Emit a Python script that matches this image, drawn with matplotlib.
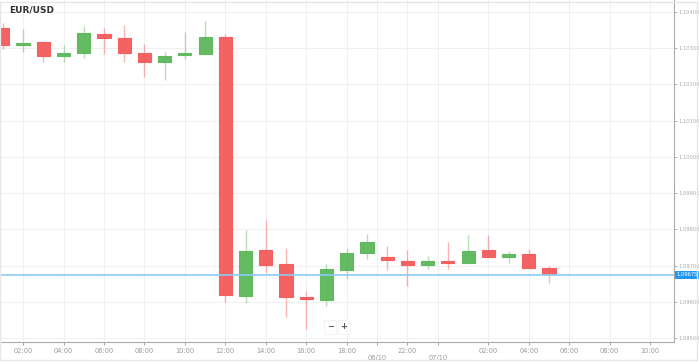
import numpy as np
import matplotlib
matplotlib.use("Agg")
import matplotlib.pyplot as plt
from matplotlib.patches import Rectangle
import matplotlib.transforms as mtransforms

# hourly EUR/USD candles
opens = [1.10356, 1.10309, 1.10317, 1.10279, 1.10287, 1.10339, 1.10328, 1.10287,
         1.10262, 1.10281, 1.10284, 1.10331, 1.09616, 1.09743, 1.09704, 1.09613,
         1.09605, 1.09688, 1.09735, 1.09724, 1.09713, 1.09702, 1.09713, 1.09707,
         1.09743, 1.09724, 1.09732, 1.09693]
highs = [1.10370, 1.10353, 1.10320, 1.10309, 1.10361, 1.10356, 1.10364, 1.10312,
         1.10290, 1.10345, 1.10375, 1.10339, 1.09798, 1.09826, 1.09749, 1.09630,
         1.09704, 1.09749, 1.09787, 1.09754, 1.09743, 1.09727, 1.09765, 1.09785,
         1.09785, 1.09740, 1.09746, 1.09699]
lows = [1.10298, 1.10290, 1.10262, 1.10262, 1.10273, 1.10284, 1.10262, 1.10221,
        1.10212, 1.10270, 1.10281, 1.09600, 1.09597, 1.09680, 1.09558, 1.09525,
        1.09589, 1.09663, 1.09718, 1.09688, 1.09644, 1.09691, 1.09691, 1.09707,
        1.09724, 1.09707, 1.09693, 1.09652]
closes = [1.10309, 1.10314, 1.10279, 1.10287, 1.10342, 1.10328, 1.10287, 1.10262,
          1.10279, 1.10287, 1.10331, 1.09619, 1.09740, 1.09702, 1.09613, 1.09608,
          1.09691, 1.09735, 1.09765, 1.09716, 1.09702, 1.09713, 1.09707, 1.09740,
          1.09724, 1.09732, 1.09693, 1.09677]
current_price = 1.09675

time_ticks = [1, 3, 5, 7, 9, 11, 13, 15, 17, 20, 24, 26, 28, 30, 32]
time_labels = ["02:00", "04:00", "06:00", "08:00", "10:00", "12:00", "14:00", "16:00",
               "18:00", "22:00", "02:00", "04:00", "06:00", "08:00", "10:00"]
date_ticks = [18.5, 21.5]
date_labels = ["06/10", "07/10"]
price_ticks = [1.095, 1.096, 1.097, 1.098, 1.099, 1.100, 1.101, 1.102, 1.103, 1.104]

up_col = "#5cb85c"
down_col = "#f45b5b"
grid_col = "#f0f0f0"
txt_col = "#999999"

fig = plt.figure(figsize=(6.99, 3.62), dpi=100)
ax = fig.add_axes([0.0, 20 / 362, 674 / 699, 342 / 362])

w = 0.65
for i in range(len(opens)):
    o, h, l, c = opens[i], highs[i], lows[i], closes[i]
    col = up_col if c >= o else down_col
    ax.vlines(i, l, h, color=col, alpha=0.45, lw=1, zorder=2)
    lo, hi = min(o, c), max(o, c)
    ax.add_patch(Rectangle((i - w / 2, lo), w, max(hi - lo, 0.00005),
                           facecolor=col, edgecolor=col, lw=0.8, alpha=0.95, zorder=3))

ax.axhline(current_price, color="#8ccbf3", lw=1.2, zorder=4)

ax.set_xlim(-0.14, 33.18)
ax.set_ylim(1.09489, 1.10433)

ax.yaxis.tick_right()
ax.set_yticks(price_ticks)
ax.set_yticklabels([f"{p:.5f}" for p in price_ticks])
ax.set_xticks(time_ticks + date_ticks)
ax.set_xticklabels(time_labels + [""] * len(date_ticks))
ax.tick_params(axis="x", labelsize=4.8, colors=txt_col, length=2.5, width=0.6, pad=1.5)
ax.tick_params(axis="y", labelsize=3.7, colors="#aaaaaa", length=2, width=0.6, pad=1)
ax.grid(True, color=grid_col, lw=0.8, zorder=0)

for d, lab in zip(date_ticks, date_labels):
    ax.text(d, -0.038, lab, transform=mtransforms.blended_transform_factory(ax.transData, ax.transAxes),
            ha="center", va="top", fontsize=4.8, color=txt_col)

for s in ["top", "left"]:
    ax.spines[s].set_visible(False)
ax.spines["right"].set_color("#aaaaaa")
ax.spines["bottom"].set_color("#aaaaaa")

# current price tag
ax.text(1.004, current_price, f"{current_price:.5f}", transform=mtransforms.blended_transform_factory(ax.transAxes, ax.transData),
        ha="left", va="center", fontsize=3.7, color="white", clip_on=False,
        bbox=dict(boxstyle="square,pad=0.3", fc="#2196f3", ec="none"))

ax.text(0.014, 0.985, "EUR/USD", transform=ax.transAxes, ha="left", va="top",
        fontsize=6.5, fontweight="bold", color="#333333")

# zoom buttons
for xb, sym in [(0.49, "\u2212"), (0.51, "+")]:
    ax.text(xb, 0.045, sym, transform=ax.transAxes, ha="center", va="center", fontsize=6,
            fontweight="bold", color="#555555",
            bbox=dict(boxstyle="square,pad=0.3", fc="white", ec="#eeeeee", lw=0.5))

fig.patches.append(Rectangle((0, 0.005), 0.997, 0.99, transform=fig.transFigure,
                             fill=False, ec="#e6e6e6", lw=1))

fig.savefig("out.png", dpi=100)
